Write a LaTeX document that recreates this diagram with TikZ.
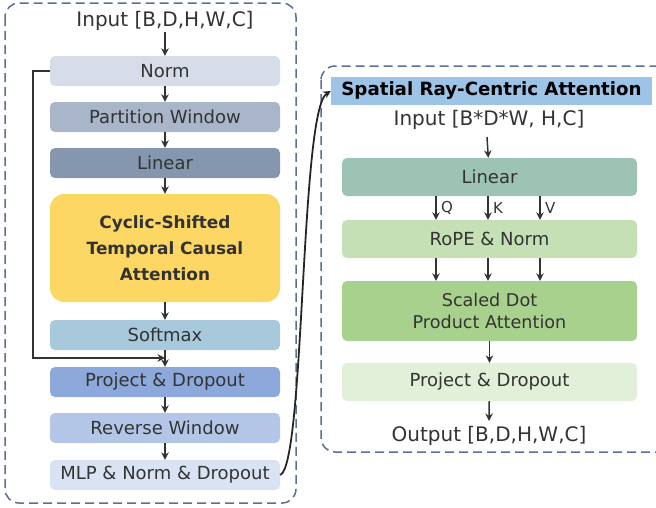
\documentclass[tikz,border=0pt]{standalone}
\usepackage{fontspec}
\setmainfont{DejaVu Sans}
\usetikzlibrary{arrows.meta,positioning}

\definecolor{dashblue}{HTML}{5B6E93}
\definecolor{cnorm}{HTML}{D6DDE8}
\definecolor{cpart}{HTML}{A9B5C8}
\definecolor{clin}{HTML}{8497AF}
\definecolor{cyel}{HTML}{FDD764}
\definecolor{csoft}{HTML}{A7C9DB}
\definecolor{cproj}{HTML}{8DA9DB}
\definecolor{crev}{HTML}{B4C6E7}
\definecolor{cmlp}{HTML}{DAE3F3}
\definecolor{chead}{HTML}{9DC3E6}
\definecolor{clin2}{HTML}{9DC3B5}
\definecolor{crope}{HTML}{C5E0B4}
\definecolor{csdpa}{HTML}{A9D18E}
\definecolor{cproj2}{HTML}{E2F0D9}
\definecolor{ink}{HTML}{333333}

\tikzset{
  blk/.style={rectangle,rounded corners=5pt,minimum width=230pt,minimum height=30pt,
    text=ink,font=\fontsize{18}{20}\selectfont,inner sep=0pt},
  rblk/.style={blk,minimum width=295pt,minimum height=38pt},
  lbl/.style={text=ink,font=\fontsize{20}{22}\selectfont,inner sep=0pt},
  arr/.style={-{Stealth[length=7.5pt,width=7.5pt]},line width=1.5pt,draw=ink},
  frame/.style={dashed,dash pattern=on 9pt off 5pt,line width=1.5pt,draw=dashblue,rounded corners=14pt}
}

\begin{document}
\begin{tikzpicture}[x=1pt,y=-1pt]
    \useasboundingbox (0,0) rectangle (656,507);

    % frames
    \draw[frame] (5,3) rectangle (296,503);
    \draw[frame] (321,66) rectangle (680,452);

    % left column
    \node[lbl](in1) at (165,21) {Input [B,D,H,W,C]};
    \node[blk,fill=cnorm](norm) at (165,71) {Norm};
    \node[blk,fill=cpart](part) at (165,117) {Partition Window};
    \node[blk,fill=clin](lin) at (165,163) {Linear};
    \node[blk,fill=cyel,minimum height=108pt,rounded corners=14pt,align=center,
          font=\bfseries\fontsize{16.9}{26}\selectfont](cyc) at (165,248)
          {Cyclic-Shifted\\Temporal Causal\\Attention};
    \node[blk,fill=csoft](soft) at (165,335) {Softmax};
    \node[blk,fill=cproj](proj) at (165,382) {Project \& Dropout};
    \node[blk,fill=crev](rev) at (165,428) {Reverse Window};
    \node[blk,fill=cmlp](mlp) at (165,475) {MLP \& Norm \& Dropout};
    \coordinate (join) at (165,358);

    \draw[arr] (165,32) -- (norm);
    \draw[arr] (norm) -- (part);
    \draw[arr] (part) -- (lin);
    \draw[arr] (lin) -- (cyc);
    \draw[arr] (cyc) -- (soft);
    \draw[arr] (soft) -- (proj);
    \draw[arr] (proj) -- (rev);
    \draw[arr] (rev) -- (mlp);
    \draw[arr] (norm.west) -- ++(-17,0) |- (join);

    % right column
    \node[fill=chead,minimum width=321pt,minimum height=28pt,inner sep=0pt,
          font=\bfseries\fontsize{18.2}{20}\selectfont](head) at (491.5,91) {Spatial Ray-Centric Attention};
    \node[lbl](in2) at (489,120) {Input [B*D*W, H,C]};
    \node[rblk,fill=clin2](lin2) at (489.5,177) {Linear};
    \node[rblk,fill=crope](rope) at (489.5,239) {RoPE \& Norm};
    \node[rblk,fill=csdpa,minimum height=60pt,align=center,
          font=\fontsize{17.6}{21.5}\selectfont](sdpa) at (489.5,311) {Scaled Dot\\Product Attention};
    \node[rblk,fill=cproj2](proj2) at (489.5,382) {Project \& Dropout};
    \node[lbl](out) at (489,436) {Output [B,D,H,W,C]};

    \draw[arr] (487,137) -- (lin2);
    \foreach \xx/\qq in {436/Q,488/K,540/V}{
      \draw[arr] (\xx,0 |- lin2.south) -- (\xx,0 |- rope.north) node[midway,right=1pt,text=ink,
            font=\fontsize{15}{17}\selectfont] {\qq};
      \draw[arr] (\xx,0 |- rope.south) -- (\xx,0 |- sdpa.north);
    }
    \draw[arr] (sdpa) -- (proj2);
    \draw[arr] (proj2) -- (489,421);

    % link between the two blocks
    \draw[arr,line width=1.8pt,draw=black!85] (mlp.east) .. controls (305,465) and (300,110) .. (head.west);

\end{tikzpicture}
\end{document}
